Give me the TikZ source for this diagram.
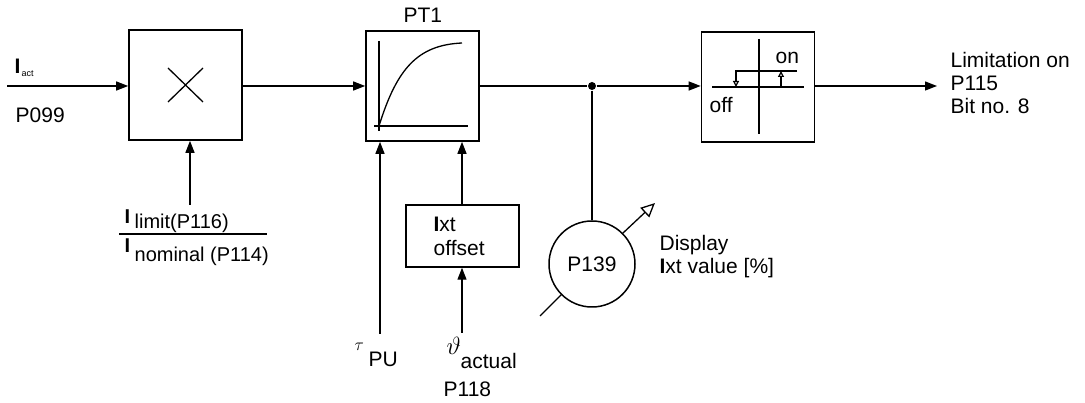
\documentclass[tikz,border=0pt]{standalone}
\usepackage{fontspec}
\setmainfont{Liberation Sans}
\usetikzlibrary{arrows.meta}
\begin{document}
\begin{tikzpicture}[x=1pt,y=-1pt,line width=1.3pt,
  blk/.style={draw,line width=1.6pt,minimum width=113pt,minimum height=110pt,inner sep=0pt},
  arr/.style={-{Triangle[length=12pt,width=9pt]}},
  txt/.style={font=\fontsize{21}{21}\selectfont,inner sep=0pt,anchor=base west},
  sym/.style={line width=1.3pt}]
\useasboundingbox (0,0) rectangle (1085,403);
% blocks
\node[blk] (mul) at (185.5,85) {};
\node[blk] (pt) at (422.5,86) {};
\node[blk] (hys) at (758,87) {};
\node[draw,line width=1.5pt,minimum width=113pt,minimum height=62pt,inner sep=0pt] (off) at (462.5,236) {};
\node[circle,draw,line width=1.5pt,minimum size=86pt,inner sep=0pt,font=\fontsize{21}{21}\selectfont] (disp) at (592,264) {P139};
\node[circle,fill,inner sep=0pt,minimum size=8pt] (dot) at (592,86) {};
% symbols inside blocks
\draw[sym] (168,68) -- (203,102) (168,102) -- (203,68);
\draw[sym] (379,41) -- (379,131) (374,126) -- (468,126);
\draw[sym] (379,126) .. controls (397,68) and (418,45) .. (462,43);
\draw[sym] (759,39) -- (759,134) (712,87) -- (804,87);
\draw[line width=1.2pt,-{Triangle[length=6pt,width=6pt,open,fill=white]}] (797,71) -- (736,71) -- (736,87);
\draw[line width=1.2pt,-{Triangle[length=6pt,width=6pt,open,fill=white]}] (781,87) -- (781,71);
% connectors
\coordinate (in) at (7,86);
\coordinate (out) at (937,86);
\coordinate (fr) at (190,205);
\coordinate (tau) at (380,334);
\coordinate (th) at (462,333);
\draw[arr] (in) -- (in -| mul.west);
\draw[arr] (mul.east |- in) -- (in -| pt.west);
\draw (pt.east |- dot) -- (dot);
\draw[arr] (dot) -- (dot -| hys.west);
\draw[arr] (hys.east |- out) -- (out);
\draw[arr] (fr) -- (fr |- mul.south);
\draw[arr] (tau) -- (tau |- pt.south);
\draw[arr] (off.north -| th) -- (th |- pt.south);
\draw[arr] (th) -- (th |- off.south);
\draw (dot) -- (disp.north);
\draw (disp.225) -- ++(-21,21);
\draw[-{Triangle[length=14pt,width=13pt,open,fill=white]}] (disp.45) -- ++(32,-30);
% labels
\node[txt,font=\fontsize{21}{21}\selectfont\bfseries] (iI) at (14,74) {I};
\node[txt,font=\fontsize{9}{9}\selectfont] (iact) at (21,77) {act};
\node[txt] (p099) at (15,123) {P099};
\node[txt,font=\fontsize{21}{21}\selectfont] (ptl) at (403,23) {PT1};
\node[txt,font=\fontsize{20}{20}\selectfont\bfseries] (nI) at (124,224) {I};
\node[txt,font=\fontsize{20}{20}\selectfont] (nT) at (134,229) {limit(P116)};
\draw[line width=1.1pt] (119,234) -- (267,234);
\node[txt,font=\fontsize{20}{20}\selectfont\bfseries] (dI) at (124,253) {I};
\node[txt,font=\fontsize{20}{20}\selectfont] (dT) at (134,262) {nominal (P114)};
\node[txt] (o1) at (433,232) {\textbf{I}xt};
\node[txt] (o2) at (433,256) {offset};
\node[txt,font=\fontsize{17}{17}\selectfont] (taul) at (354,351) {$\tau$};
\node[txt] (pu) at (368,367) {PU};
\node[txt,font=\fontsize{23}{23}\selectfont] (thl) at (446,355) {$\vartheta$};
\node[txt] (act) at (460,369) {actual};
\node[txt] (p118) at (443,396) {P118};
\node[txt] (onl) at (775,64) {on};
\node[txt] (offl) at (709,113) {off};
\node[txt] (l1) at (950,68) {Limitation on};
\node[txt] (l2) at (950,91) {P115};
\node[txt] (l3) at (950,114) {Bit no. 8};
\node[txt] (d1) at (659,251) {Display};
\node[txt] (d2) at (659,274) {\textbf{I}xt value [\%]};
\end{tikzpicture}
\end{document}
